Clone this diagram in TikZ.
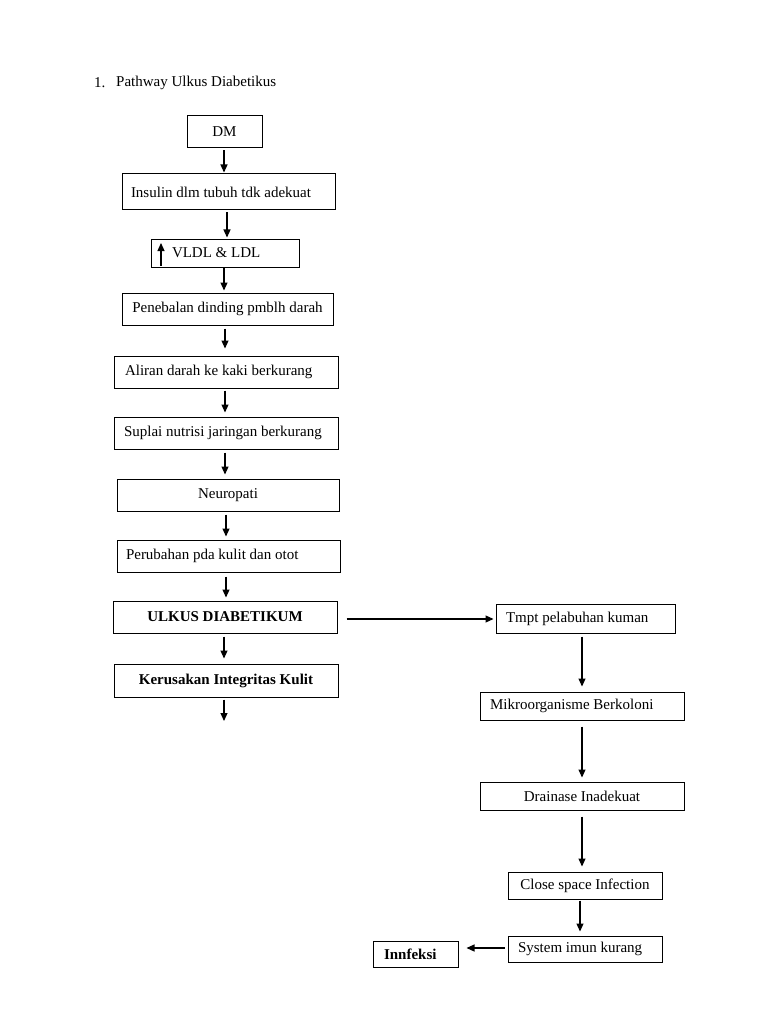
\documentclass[tikz,border=0pt]{standalone}
\usepackage{fontspec}
\setmainfont{Liberation Serif}
\usetikzlibrary{arrows.meta}
\newcommand\fs{\fontsize{15}{18}\selectfont}
\newcommand\bx[7]{\node[box,minimum width={(#5-#3)*1pt},minimum height={(#6-#4)*1pt},#1] (#2) at ({(#3+#5)/2},{(#4+#6)/2}) {#7};}
\begin{document}
\begin{tikzpicture}[x=1pt,y=-1pt,
  box/.style={draw,line width=1pt,inner sep=0pt,font=\fs},
  lt/.style={text width={#1*1pt},align=flush left},
  arr/.style={-{Triangle[length=8pt,width=7pt]},line width=1.1pt}]
\useasboundingbox[fill=white] (0,0) rectangle (768,1024);
\node[anchor=west,inner sep=0pt,font=\fs] (num) at (94,83) {1.};
\node[anchor=west,inner sep=0pt,font=\fs] (title) at (116,83) {Pathway Ulkus Diabetikus};
\bx{}{dm}{187}{116}{262}{148}{DM}
\bx{lt=195}{ins}{122}{174}{335}{210}{Insulin dlm tubuh tdk adekuat}
\bx{lt=106}{vldl}{151}{239}{299}{267}{VLDL \& LDL}
\coordinate (u1) at (161,266);
\coordinate (u2) at (161,243);
\bx{}{peneb}{122}{293}{333}{325}{Penebalan dinding pmblh darah}
\bx{lt=202}{alir}{114}{356}{338}{388}{Aliran darah ke kaki berkurang}
\bx{lt=204}{supl}{114}{417}{338}{449}{Suplai nutrisi jaringan berkurang}
\bx{}{neuro}{117}{479}{339}{511}{Neuropati}
\bx{lt=205}{perub}{117}{540}{340}{572}{Perubahan pda kulit dan otot}
\bx{font=\fs\bfseries}{ulkus}{113}{601}{337}{633}{ULKUS DIABETIKUM}
\bx{font=\fs\bfseries}{kerus}{114}{664}{338}{697}{Kerusakan Integritas Kulit}
\coordinate (kend) at (224,721);
\bx{lt=159}{tmpt}{496}{604}{675}{633}{Tmpt pelabuhan kuman}
\bx{lt=184}{mikro}{480}{692}{684}{720}{Mikroorganisme Berkoloni}
\bx{}{drain}{480}{782}{684}{810}{Drainase Inadekuat}
\bx{}{close}{508}{872}{662}{899}{Close space Infection}
\bx{lt=134}{sys}{508}{936}{662}{962}{System imun kurang}
\bx{lt=63,font=\fs\bfseries}{innf}{373}{941}{458}{967}{Innfeksi}
% connectors
\draw[arr] (u1) -- (u2);
\draw[arr,shorten <=2pt,shorten >=1pt] ([xshift=-0.5pt]dm.south) -- ([xshift=-0.5pt]dm.south |- ins.north);
\draw[arr,shorten <=2pt,shorten >=1pt] ([xshift=-1.5pt]ins.south) -- ([xshift=-1.5pt]ins.south |- vldl.north);
\draw[arr,shorten >=2pt] ([xshift=-1pt]vldl.south) -- ([xshift=-1pt]vldl.south |- peneb.north);
\draw[arr,shorten <=3pt,shorten >=7pt] ([xshift=-2.5pt]peneb.south) -- ([xshift=-2.5pt]peneb.south |- alir.north);
\draw[arr,shorten <=2pt,shorten >=4pt] ([xshift=-1pt]alir.south) -- ([xshift=-1pt]alir.south |- supl.north);
\draw[arr,shorten <=3pt,shorten >=4pt] ([xshift=-1pt]supl.south) -- ([xshift=-1pt]supl.south |- neuro.north);
\draw[arr,shorten <=3pt,shorten >=3pt] ([xshift=-2pt]neuro.south) -- ([xshift=-2pt]neuro.south |- perub.north);
\draw[arr,shorten <=4pt,shorten >=3pt] ([xshift=-2.5pt]perub.south) -- ([xshift=-2.5pt]perub.south |- ulkus.north);
\draw[arr,shorten <=3pt,shorten >=5pt] ([xshift=-1pt]ulkus.south) -- ([xshift=-1pt]ulkus.south |- kerus.north);
\draw[arr,shorten <=2pt] ([xshift=-2pt]kerus.south) -- (kend);
\draw[arr,shorten <=9pt,shorten >=2pt] ([yshift=-2pt]ulkus.east) -- ([yshift=-2pt]ulkus.east -| tmpt.west);
\draw[arr,shorten <=3pt,shorten >=5pt] (mikro.north |- tmpt.south) -- (mikro.north);
\draw[arr,shorten <=6pt,shorten >=4pt] (mikro.south) -- (drain.north);
\draw[arr,shorten <=6pt,shorten >=5pt] (drain.south) -- (drain.south |- close.north);
\draw[arr,shorten <=1pt,shorten >=4pt] ([xshift=-5pt]close.south) -- ([xshift=-5pt]close.south |- sys.north);
\draw[arr,shorten <=3pt,shorten >=8pt] ([yshift=1pt]sys.west) -- ([yshift=1pt]sys.west -| innf.east);
\end{tikzpicture}
\end{document}
